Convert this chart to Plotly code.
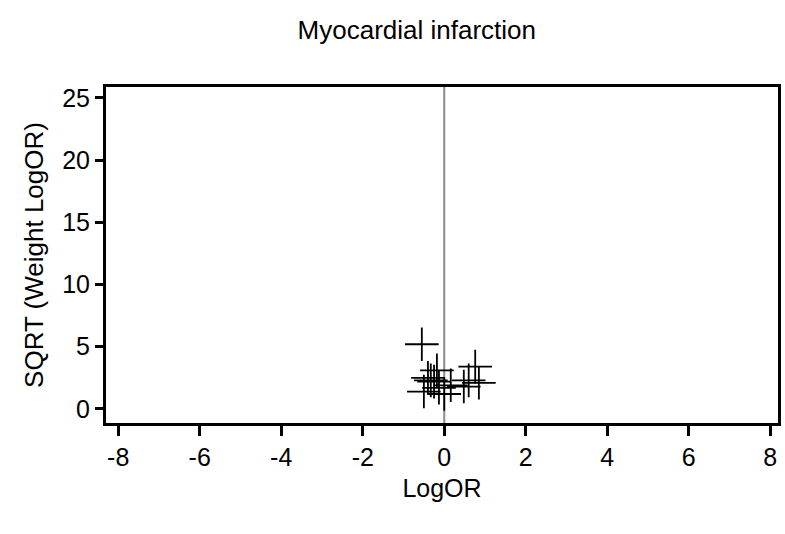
import plotly.graph_objects as go

# Study-level log odds ratios and sqrt of their weights
log_or = [-0.55, 0.76, -0.18, 0.85, -0.50, 0.00, 0.16, 0.48, -0.33, -0.40, -0.13, -0.25, 0.60]
sqrt_weight = [5.2, 3.4, 3.1, 2.1, 1.4, 1.2, 1.9, 1.8, 2.3, 2.5, 1.7, 2.2, 2.3]

x_ticks = [-8, -6, -4, -2, 0, 2, 4, 6, 8]
y_ticks = [0, 5, 10, 15, 20, 25]

fig = go.Figure()

fig.add_trace(go.Scatter(
    x=log_or, y=sqrt_weight, mode="markers",
    marker=dict(symbol="cross-thin", size=24, line=dict(color="black", width=1.8)),
    showlegend=False,
))

# Reference line at no effect
fig.add_shape(type="line", xref="x", yref="paper", x0=0, x1=0, y0=0, y1=1,
              line=dict(color="#8c8c8c", width=2), layer="below")

family = "Liberation Sans"
tick_font = dict(family=family, size=25, color="black")

fig.update_layout(
    width=785, height=534,
    margin=dict(l=106, r=4, t=87, b=111),
    paper_bgcolor="white", plot_bgcolor="white",
    font=dict(family=family, size=24, color="black"),
    title=dict(text="Myocardial infarction", x=0.531, xanchor="center",
               y=1 - 30 / 534, yanchor="middle",
               font=dict(family=family, size=26, color="black")),
    xaxis=dict(range=[-8.30, 8.19], tickvals=x_ticks,
               ticktext=[str(v) for v in x_ticks],
               showgrid=False, zeroline=False,
               showline=True, linecolor="black", linewidth=3, mirror=True,
               ticks="outside", ticklen=10, tickwidth=3, tickcolor="black",
               title=dict(text="LogOR", standoff=10,
                          font=dict(family=family, size=25, color="black")),
               tickfont=tick_font),
    yaxis=dict(range=[-1.13, 25.88], tickvals=y_ticks,
               ticktext=[str(v) for v in y_ticks],
               showgrid=False, zeroline=False,
               showline=True, linecolor="black", linewidth=3, mirror=True,
               ticks="outside", ticklen=8, tickwidth=3, tickcolor="black",
               title=dict(text="SQRT (Weight LogOR)", standoff=12,
                          font=dict(family=family, size=26, color="black")),
               tickfont=tick_font),
)

fig.write_html("out.html")
